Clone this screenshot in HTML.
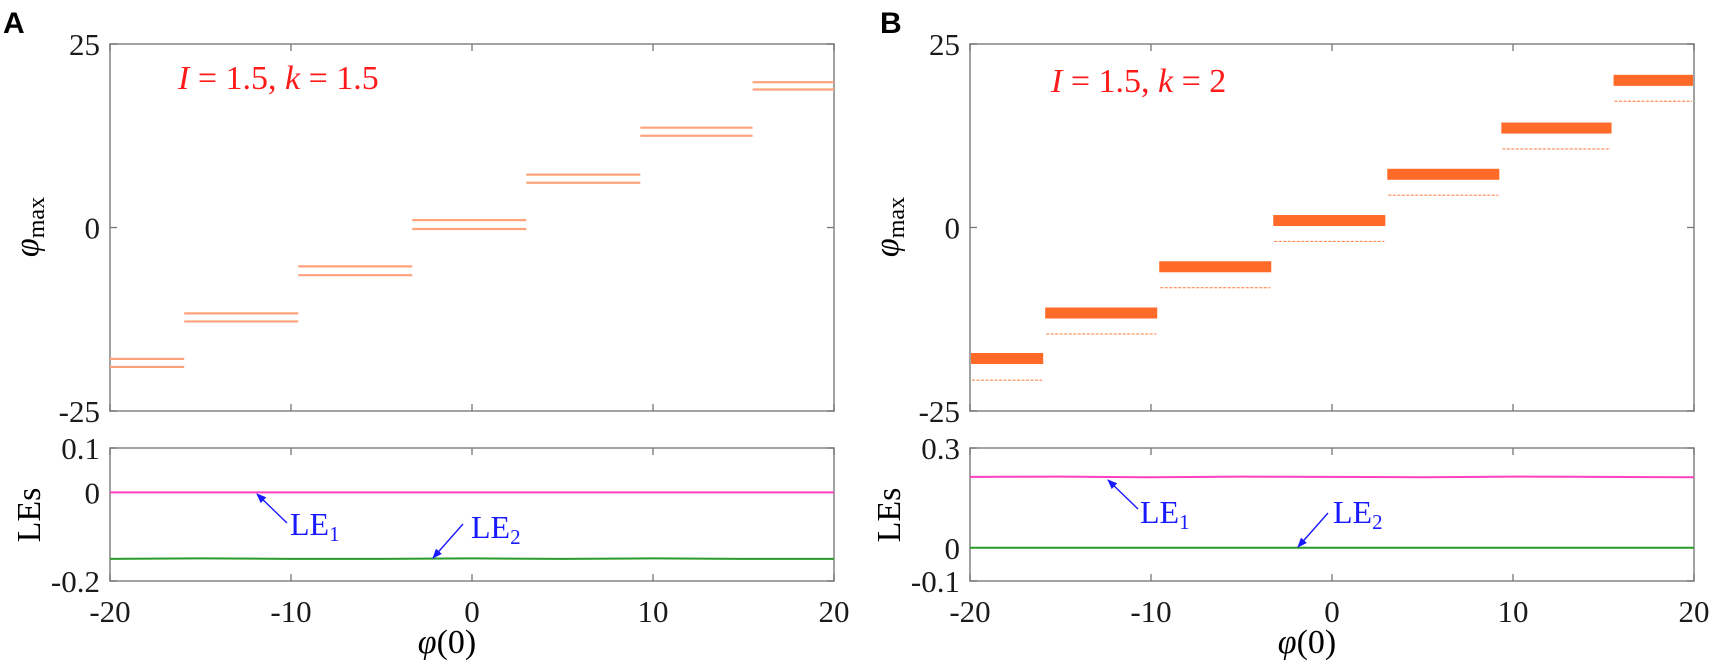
<!DOCTYPE html>
<html><head><meta charset="utf-8">
<style>
html,body{margin:0;padding:0;background:#fff;}
svg{display:block;}
text{font-family:"Liberation Serif",serif;}
</style></head>
<body>
<svg id="fig" width="1715" height="666" viewBox="0 0 1715 666" xmlns="http://www.w3.org/2000/svg"></svg>
<script>
// ---- data ----
const xTicks = [-20, -10, 0, 10, 20];
const stepEdges = [-20, -15.9, -9.6, -3.3, 3.0, 9.3, 15.5, 20];
const aUpper = [-17.9, -11.7, -5.3, 1.0, 7.2, 13.6, 19.8];
const aLower = [-19.0, -12.8, -6.5, -0.2, 6.1, 12.5, 18.8];
const bBandTop = [-17.1, -10.9, -4.6, 1.7, 8.0, 14.3, 20.8];
const bBandBottom = [-18.6, -12.4, -6.1, 0.2, 6.5, 12.8, 19.3];
const bDots = [-20.8, -14.5, -8.2, -1.9, 4.4, 10.7, 17.2];
const leX = [-20, -15, -10, -5, 0, 5, 10, 15, 20];
const aLE1 = [0.0, 0.0, 0.0, 0.0, 0.0, 0.0, 0.0, 0.0, 0.0];
const aLE2 = [-0.150, -0.149, -0.150, -0.150, -0.149, -0.150, -0.149, -0.150, -0.150];
const bLE1 = [0.213, 0.214, 0.212, 0.214, 0.213, 0.212, 0.214, 0.213, 0.212];
const bLE2 = [0.0, 0.0, 0.0, 0.0, 0.0, 0.0, 0.0, 0.0, 0.0];
const aTopTicks = [25, 0, -25];
const aLowTicks = [0.1, 0, -0.2];
const bLowTicks = [0.3, 0, -0.1];

const NS = "http://www.w3.org/2000/svg";
const svg = document.getElementById('fig');
function mk(tag, attrs, parent, txt) {
  const e = document.createElementNS(NS, tag);
  for (const k in attrs) e.setAttribute(k, attrs[k]);
  if (txt !== undefined) e.textContent = txt;
  (parent || svg).appendChild(e);
  return e;
}
function scale(d0, d1, r0, r1) { return v => r0 + (v - d0) * (r1 - r0) / (d1 - d0); }

const defs = mk('defs', {});
const mkr = mk('marker', {id: 'arr', markerWidth: 10, markerHeight: 8, refX: 9, refY: 4, orient: 'auto', markerUnits: 'userSpaceOnUse'}, defs);
mk('path', {d: 'M0,0 L10,4 L0,8 z', fill: '#1a1aff'}, mkr);

function panel(cfg) {
  const g = mk('g', {});
  
  
  const L = cfg.left, R = cfg.left + 724;
  const x = scale(-20, 20, L, R);
  const yT = scale(-25, 25, 411, 44);
  const yB = scale(cfg.lowMin, cfg.lowMax, 581, 448);

  const lt = mk('text', {x: cfg.letterX, y: 33, style: 'font-family:"Liberation Sans",sans-serif;font-weight:bold;font-size:30px', fill: '#000'}, g, cfg.letter);
  
  

  const f1 = mk('rect', {x: L, y: 44, width: R - L, height: 367, fill: 'none', stroke: '#8c8c8c', 'stroke-width': 1.6}, g);
  
  
  const f2 = mk('rect', {x: L, y: 448, width: R - L, height: 133, fill: 'none', stroke: '#8c8c8c', 'stroke-width': 1.6}, g);
  
  

  xTicks.forEach(t => {
    const xx = x(t);
    [[44, 1], [411, -1], [448, 1], [581, -1]].forEach(([yy, d]) => {
      mk('line', {x1: xx, x2: xx, y1: yy, y2: yy + d * 7, stroke: '#777', 'stroke-width': 1.3}, g);
    });
    const tl = mk('text', {x: xx, y: 622, 'font-size': 31, fill: '#1a1a1a', 'text-anchor': 'middle'}, g, String(t));
    
    
  });
  cfg.topTicks.forEach(t => {
    const yy = yT(t);
    mk('line', {x1: L, x2: L + 7, y1: yy, y2: yy, stroke: '#777', 'stroke-width': 1.3}, g);
    mk('line', {x1: R, x2: R - 7, y1: yy, y2: yy, stroke: '#777', 'stroke-width': 1.3}, g);
    const tl = mk('text', {x: L - 10, y: yy + 11, 'font-size': 31, fill: '#1a1a1a', 'text-anchor': 'end'}, g, String(t));
    
    
  });
  cfg.lowTicks.forEach(t => {
    const yy = yB(t);
    mk('line', {x1: L, x2: L + 7, y1: yy, y2: yy, stroke: '#777', 'stroke-width': 1.3}, g);
    mk('line', {x1: R, x2: R - 7, y1: yy, y2: yy, stroke: '#777', 'stroke-width': 1.3}, g);
    const tl = mk('text', {x: L - 10, y: yy + 11, 'font-size': 31, fill: '#1a1a1a', 'text-anchor': 'end'}, g, String(t));
    
    
  });

  const yl = mk('text', {transform: `translate(${cfg.left - 72},${227}) rotate(-90)`, 'font-size': 34, fill: '#000', 'text-anchor': 'middle'}, g);
  
  
  mk('tspan', {'font-style': 'italic'}, yl, 'φ');
  mk('tspan', {'font-size': 24, dy: 6}, yl, 'max');
  const yl2 = mk('text', {transform: `translate(${cfg.left - 70},${515}) rotate(-90)`, 'font-size': 34, fill: '#000', 'text-anchor': 'middle'}, g, 'LEs');
  
  
  const xl = mk('text', {x: cfg.left + 337, y: 653, 'font-size': 34, fill: '#000', 'text-anchor': 'middle'}, g);
  
  
  mk('tspan', {'font-style': 'italic'}, xl, 'φ');
  mk('tspan', {}, xl, '(0)');

  const pl = mk('text', {x: cfg.left + cfg.paramDx, y: cfg.paramY, 'font-size': 34, fill: '#ff1a1a'}, g);
  
  
  mk('tspan', {'font-style': 'italic'}, pl, 'I');
  mk('tspan', {}, pl, ' = 1.5, ');
  mk('tspan', {'font-style': 'italic'}, pl, 'k');
  mk('tspan', {}, pl, ' = ' + cfg.k);

  cfg.drawSteps(g, x, yT);

  [[cfg.le1, '#ff3fbf', 'le1-line'], [cfg.le2, '#2a9a2a', 'le2-line']].forEach(([arr, col, nm]) => {
    const pts = leX.map((v, i) => x(v) + ',' + yB(arr[i])).join(' ');
    const pl2 = mk('polyline', {points: pts, fill: 'none', stroke: col, 'stroke-width': 2}, g);
    
    
  });

  cfg.notes.forEach(n => {
    const a = mk('line', {x1: n.tx, y1: n.ty, x2: n.hx, y2: n.hy, stroke: '#1a1aff', 'stroke-width': 1.4, 'marker-end': 'url(#arr)'}, g);
    
    
    const t = mk('text', {x: n.lx, y: n.ly, 'font-size': 32, fill: '#1a1aff'}, g);
    
    
    mk('tspan', {}, t, 'LE');
    mk('tspan', {'font-size': 21, dy: 6}, t, n.sub);
  });
}

panel({
  name: 'panel-a', letter: 'A', letterX: 3, left: 110, lowMin: -0.2, lowMax: 0.1,
  topTicks: aTopTicks, lowTicks: aLowTicks, k: '1.5', paramDx: 68, paramY: 89,
  le1: aLE1, le2: aLE2,
  notes: [
    {tx: 287, ty: 523, hx: 257, hy: 494, lx: 290, ly: 535, sub: '1'},
    {tx: 463, ty: 524, hx: 433, hy: 558, lx: 471, ly: 538, sub: '2'}
  ],
  drawSteps: (g, x, y) => {
    for (let i = 0; i < aUpper.length; i++) {
      [aUpper[i], aLower[i]].forEach(v => {
        const l = mk('line', {x1: x(stepEdges[i]), x2: x(stepEdges[i + 1]), y1: y(v), y2: y(v), stroke: '#ffa27c', 'stroke-width': 2.2}, g);
        
        
      });
    }
  }
});

panel({
  name: 'panel-b', letter: 'B', letterX: 880, left: 970, lowMin: -0.1, lowMax: 0.3,
  topTicks: aTopTicks, lowTicks: bLowTicks, k: '2', paramDx: 81, paramY: 92,
  le1: bLE1, le2: bLE2,
  notes: [
    {tx: 1138, ty: 509, hx: 1108, hy: 480, lx: 1140, ly: 523, sub: '1'},
    {tx: 1328, ty: 513, hx: 1298, hy: 547, lx: 1333, ly: 523, sub: '2'}
  ],
  drawSteps: (g, x, y) => {
    for (let i = 0; i < bBandTop.length; i++) {
      const r = mk('rect', {x: x(stepEdges[i]) + 1, y: y(bBandTop[i]), width: x(stepEdges[i + 1]) - x(stepEdges[i]) - 2, height: y(bBandBottom[i]) - y(bBandTop[i]), fill: '#ff6a28'}, g);
      
      
      const d = mk('line', {x1: x(stepEdges[i]) + 2, x2: x(stepEdges[i + 1]) - 2, y1: y(bDots[i]), y2: y(bDots[i]), stroke: '#ff8a50', 'stroke-width': 1.2, 'stroke-dasharray': '3 1.5'}, g);
      
      
    }
  }
});
</script>
</body></html>
